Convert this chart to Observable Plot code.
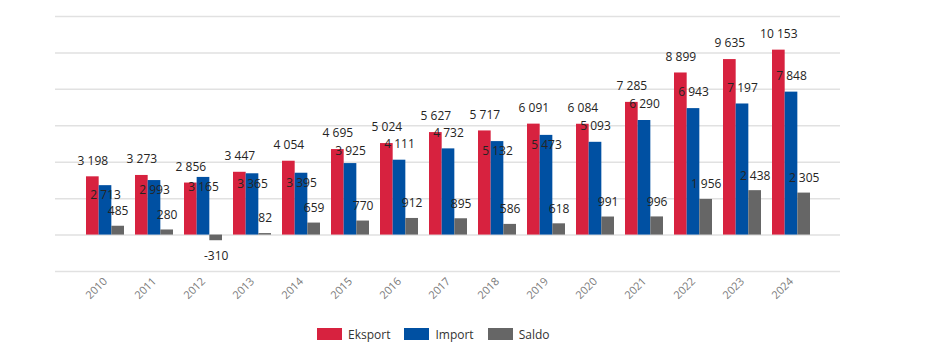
<!DOCTYPE html>
<html>
<head>
<meta charset="utf-8">
<script src="https://cdn.jsdelivr.net/npm/d3@7"></script>
<script src="https://cdn.jsdelivr.net/npm/@observablehq/plot@0.6"></script>
<style>
  html, body { margin: 0; padding: 0; background: #fff; }
  #chart svg { display: block; }
  .legend { display: flex; align-items: center; height: 38px; padding-left: 317px;
            font: 12px "Open Sans", sans-serif; color: #333; }
  .legend .item { display: flex; align-items: center; margin-right: 14px; }
  .legend .sw { width: 25px; height: 12px; margin-right: 6px; }
</style>
</head>
<body>
<div id="chart"></div>
<script>
const years = ["2010","2011","2012","2013","2014","2015","2016","2017","2018","2019","2020","2021","2022","2023","2024"];
const eksport = [3198, 3273, 2856, 3447, 4054, 4695, 5024, 5627, 5717, 6091, 6084, 7285, 8899, 9635, 10153];
const importV = [2713, 2993, 3165, 3365, 3395, 3925, 4111, 4732, 5132, 5473, 5093, 6290, 6943, 7197, 7848];
const saldo   = [485, 280, -310, 82, 659, 770, 912, 895, 586, 618, 991, 996, 1956, 2438, 2305];
const seriesNames = ["Eksport", "Import", "Saldo"];
const seriesColors = ["#D7223F", "#0050A2", "#666666"];
const gridTicks = [-2000, 0, 2000, 4000, 6000, 8000, 10000, 12000];

const toRows = (vals, s) => vals.map((v, i) => ({year: years[i], value: v, series: s}));
const rowsE = toRows(eksport, "Eksport");
const rowsI = toRows(importV, "Import");
const rowsS = toRows(saldo, "Saldo");

const fmt = d3.formatLocale({decimal: ",", thousands: " ", grouping: [3], currency: ["", ""], minus: "-"}).format(",");

const W = 945, H = 315, mL = 55, mR = 105, mT = 16, mB = 44;
const padIn = 0.227, padOut = 0.6;
const bw = d3.scaleBand().domain(years).range([mL, W - mR]).paddingInner(padIn).paddingOuter(padOut).bandwidth();
const third = bw / 3;

// label placement (Import labels that sit just below the bar top)
const importInside = new Set(["2010","2011","2012","2013","2014","2018","2019"]);

const font = "'Open Sans', sans-serif";
const txt = {fontSize: 12, fill: "#252423", fontFamily: font, text: d => fmt(d.value)};

const plot = Plot.plot({
  width: W, height: H,
  marginLeft: mL, marginRight: mR, marginTop: mT, marginBottom: mB,
  x: {type: "band", domain: years, paddingInner: padIn, paddingOuter: padOut, label: null},
  y: {domain: [-2000, 12000], axis: null},
  color: {domain: seriesNames, range: seriesColors},
  style: {fontFamily: font},
  marks: [
    Plot.ruleY(gridTicks, {stroke: "#e1e1e1", strokeWidth: 1.5}),
    Plot.barY(rowsE, {x: "year", y: "value", fill: "series", insetLeft: 0, insetRight: 2 * third}),
    Plot.barY(rowsI, {x: "year", y: "value", fill: "series", insetLeft: third, insetRight: third}),
    Plot.barY(rowsS, {x: "year", y: "value", fill: "series", insetLeft: 2 * third, insetRight: 0}),
    Plot.text(rowsE, {...txt, x: "year", y: "value", dx: -third, dy: -16}),
    Plot.text(rowsI.filter(d => !importInside.has(d.year) && d.year !== "2015"), {...txt, x: "year", y: "value", dy: -16}),
    Plot.text(rowsI.filter(d => d.year === "2015"), {...txt, x: "year", y: "value", dy: -12}),
    Plot.text(rowsI.filter(d => importInside.has(d.year)), {...txt, x: "year", y: "value", dy: 10}),
    Plot.text(rowsS.filter(d => d.value >= 0), {...txt, x: "year", y: "value", dx: third, dy: -15}),
    Plot.text(rowsS.filter(d => d.value < 0), {...txt, x: "year", y: "value", dx: third, dy: 15}),
    Plot.axisX({tickSize: 0, tickRotate: -45, tickPadding: 8, fontSize: 11, fill: "#7a7a7a", fontFamily: font, label: null})
  ]
});
document.getElementById("chart").appendChild(plot);

const legend = document.createElement("div");
legend.className = "legend";
seriesNames.forEach((n, i) => {
  const item = document.createElement("div");
  item.className = "item";
  const sw = document.createElement("span");
  sw.className = "sw";
  sw.style.background = seriesColors[i];
  const lab = document.createElement("span");
  lab.textContent = n;
  item.appendChild(sw); item.appendChild(lab);
  legend.appendChild(item);
});
document.getElementById("chart").appendChild(legend);
</script>
</body>
</html>
